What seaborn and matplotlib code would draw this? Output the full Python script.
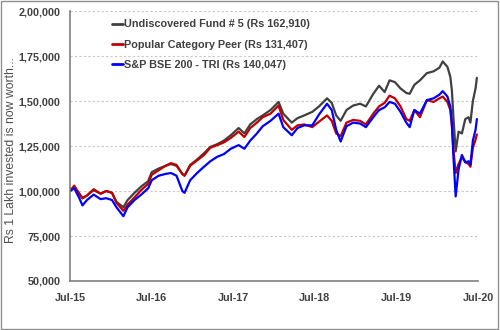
import matplotlib
matplotlib.use("Agg")
import matplotlib.pyplot as plt
from matplotlib.patches import Rectangle
import seaborn as sns
import pandas as pd

dates = [
    "2015-07-01", "2015-07-20", "2015-08-10", "2015-08-26", "2015-09-15", "2015-10-15",
    "2015-11-15", "2015-12-10", "2016-01-05", "2016-01-25", "2016-02-25", "2016-03-15",
    "2016-04-15", "2016-05-15", "2016-06-15", "2016-07-01", "2016-08-01", "2016-09-01",
    "2016-09-25", "2016-10-20", "2016-11-15", "2016-11-25", "2016-12-20", "2017-01-20",
    "2017-02-20", "2017-03-20", "2017-04-20", "2017-05-20", "2017-06-20", "2017-07-25",
    "2017-08-20", "2017-09-15", "2017-10-15", "2017-11-10", "2017-12-15", "2018-01-20",
    "2018-02-10", "2018-03-20", "2018-04-15", "2018-05-15", "2018-06-20", "2018-07-20",
    "2018-08-25", "2018-09-15", "2018-10-05", "2018-10-25", "2018-11-20", "2018-12-20",
    "2019-01-20", "2019-02-15", "2019-03-20", "2019-04-15", "2019-05-10", "2019-06-01",
    "2019-06-25", "2019-07-20", "2019-08-15", "2019-08-30", "2019-09-20", "2019-10-15",
    "2019-11-15", "2019-12-15", "2020-01-10", "2020-01-25", "2020-02-15", "2020-02-28",
    "2020-03-06", "2020-03-13", "2020-03-23", "2020-04-05", "2020-04-20", "2020-05-05",
    "2020-05-20", "2020-05-28", "2020-06-08", "2020-06-20", "2020-06-26",
]

fund = [
    100.0, 102.5, 99.0, 96.0, 97.5, 100.5, 98.5, 100.0, 99.0, 94.0, 91.0, 95.0,
    99.0, 102.5, 105.5, 110.5, 112.5, 114.0, 115.0, 114.0, 109.5, 108.5, 114.5, 117.5,
    121.0, 124.5, 126.0, 128.0, 131.0, 135.0, 132.0, 137.0, 140.0, 142.0, 145.0, 149.5,
    143.0, 138.0, 140.5, 142.0, 144.0, 147.0, 151.5, 149.0, 142.0, 139.0, 145.0, 147.5,
    148.5, 147.0, 154.0, 158.5, 155.0, 161.5, 160.5, 157.0, 154.5, 154.0, 159.0, 161.5,
    165.5, 166.5, 168.5, 172.0, 169.0, 163.5, 156.0, 141.0, 122.0, 133.0, 132.0, 140.0,
    141.0, 138.0, 150.0, 157.0, 162.9,
]

peer = [
    100.0, 103.0, 98.5, 96.0, 97.5, 101.0, 98.5, 100.0, 99.0, 93.5, 89.0, 92.5,
    96.5, 100.5, 104.0, 109.0, 111.5, 114.0, 115.5, 114.5, 109.5, 108.5, 114.0, 117.0,
    120.0, 124.0, 125.5, 127.0, 129.5, 133.0, 130.0, 135.0, 138.0, 141.0, 143.0, 147.5,
    139.5, 134.0, 136.5, 137.0, 135.5, 138.5, 142.0, 139.0, 132.0, 130.5, 138.0, 139.5,
    139.0, 137.0, 143.0, 147.0, 149.0, 153.0, 151.5, 147.0, 140.0, 139.0, 145.0, 141.0,
    150.5, 149.5, 151.5, 152.5, 149.5, 145.0, 136.0, 123.0, 110.0, 115.0, 119.0, 116.0,
    115.0, 113.5, 124.0, 128.5, 131.4,
]

index = [
    100.0, 101.5, 96.5, 92.0, 95.0, 98.0, 95.5, 96.0, 95.0, 91.0, 86.0, 91.0,
    95.0, 98.0, 101.5, 106.0, 108.5, 109.5, 110.0, 108.5, 100.0, 99.0, 106.0, 110.0,
    113.5, 116.5, 119.0, 120.5, 123.5, 125.5, 123.5, 128.0, 132.0, 136.0, 139.0, 143.0,
    135.5, 131.0, 135.0, 136.5, 136.5, 142.5, 148.5, 145.0, 134.0, 127.5, 136.0, 138.0,
    137.5, 135.5, 141.0, 145.0, 146.5, 149.5, 148.5, 144.0, 138.0, 135.5, 145.0, 143.0,
    150.5, 151.5, 153.5, 155.5, 152.5, 147.0, 138.0, 119.0, 97.0, 112.0, 120.0, 116.0,
    116.5, 114.5, 128.0, 134.0, 140.0,
]

series_names = [
    "Undiscovered Fund # 5 (Rs 162,910)",
    "Popular Category Peer (Rs 131,407)",
    "S&P BSE 200 - TRI (Rs 140,047)",
]
series_colors = ["#404040", "#C00000", "#0000FF"]

ytick_values = [50000, 75000, 100000, 125000, 150000, 175000, 200000]
ytick_labels = ["50,000", "75,000", "1,00,000", "1,25,000", "1,50,000", "1,75,000", "2,00,000"]
xtick_dates = ["2015-07-01", "2016-07-01", "2017-07-01", "2018-07-01", "2019-07-01", "2020-07-01"]
xtick_labels = ["Jul-15", "Jul-16", "Jul-17", "Jul-18", "Jul-19", "Jul-20"]
ylabel = "Rs 1 Lakh invested is now worth..."

frames = []
for name, vals in zip(series_names, [fund, peer, index]):
    frames.append(pd.DataFrame({
        "date": pd.to_datetime(dates),
        "value": [v * 1000 for v in vals],
        "series": name,
    }))
df = pd.concat(frames, ignore_index=True)

sns.set_theme(style="white")
plt.rcParams["font.family"] = ["Liberation Sans", "DejaVu Sans"]

fig = plt.figure(figsize=(5, 3.3), dpi=100)
ax = fig.add_axes([0.14, 0.1485, 0.816, 0.818])

sns.lineplot(data=df, x="date", y="value", hue="series", hue_order=series_names,
             palette=series_colors, linewidth=1.6, ax=ax, legend=True)

ax.set_xlim(pd.Timestamp("2015-07-01"), pd.Timestamp("2020-07-01"))
ax.set_ylim(50000, 200000)
ax.set_yticks(ytick_values)
ax.set_yticklabels(ytick_labels)
ax.set_xticks(pd.to_datetime(xtick_dates))
ax.set_xticklabels(xtick_labels)

txt_color = "#404040"
for lab in ax.get_xticklabels() + ax.get_yticklabels():
    lab.set_fontweight("bold")
    lab.set_fontsize(7.8)
    lab.set_color(txt_color)

ax.tick_params(axis="both", which="both", direction="out", length=3, width=0.8,
               color="#808080", pad=4)
ax.tick_params(axis="x", pad=6)

for v in ytick_values[1:]:
    ax.axhline(v, color="#c8c8c8", linestyle=(0, (2, 2)), linewidth=0.8, zorder=0)

for s in ["top", "right"]:
    ax.spines[s].set_visible(False)
for s in ["left", "bottom"]:
    ax.spines[s].set_color("#808080")
    ax.spines[s].set_linewidth(1.2)

ax.set_xlabel("")
ax.set_ylabel("")
fig.text(0.022, 0.545, ylabel, rotation=90, ha="center", va="center",
         fontsize=8.8, color="#505050")

leg = ax.legend(loc="upper left", bbox_to_anchor=(0.078, 1.005), frameon=False,
                handlelength=1.1, handletextpad=0.05, labelspacing=0.95,
                prop={"weight": "bold", "size": 7.8})
for t in leg.get_texts():
    t.set_color(txt_color)
for h in leg.get_lines():
    h.set_linewidth(2.0)

fig.patches.append(Rectangle((0.002, 0.003), 0.994, 0.994, transform=fig.transFigure,
                             fill=False, edgecolor="#909090", linewidth=1.0))

fig.savefig("out.png", dpi=100)
